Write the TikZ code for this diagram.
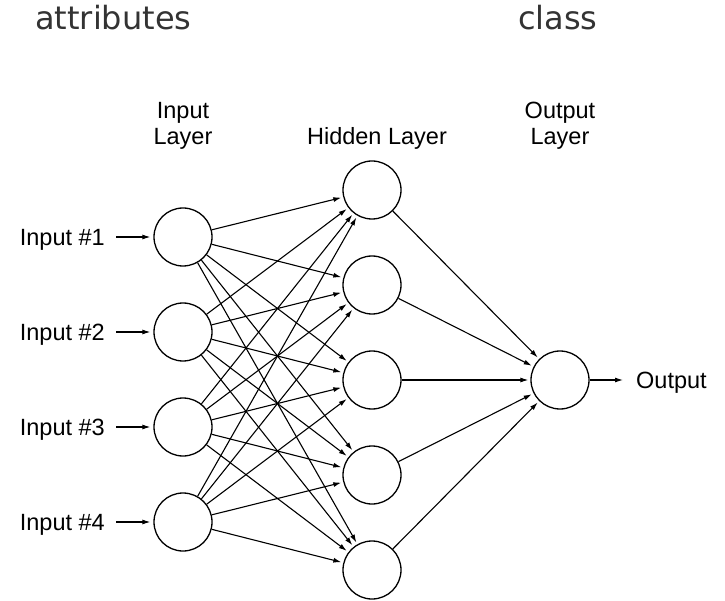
\documentclass[tikz,border=0pt]{standalone}
\usepackage{fontspec}
\setmainfont{Liberation Sans}
\newfontfamily\headfont{DejaVu Sans}
\usetikzlibrary{arrows.meta}
\definecolor{headgray}{HTML}{333333}
\tikzset{
  neuron/.style={circle, draw, line width=1.3pt, minimum size=58pt, inner sep=0pt},
  arr/.style={line width=1.1pt, -{Latex[length=8pt,width=5pt]}},
  lbl/.style={font=\fontsize{23.5}{26}\selectfont, inner sep=0pt},
  sidelbl/.style={lbl, text height=17pt, text depth=0pt},
  headlbl/.style={font=\headfont\fontsize{32}{36}\selectfont, text=headgray, inner sep=0pt, anchor=base west},
}
\begin{document}
\begin{tikzpicture}[x=1pt,y=-1pt]
\useasboundingbox (0,0) rectangle (725,601);

% column headings
\node[headlbl] (hattr) at (35,30) {attributes};
\node[headlbl] (hclass) at (518,30) {class};

% layer titles
\node[lbl, anchor=base, align=center] (tin) at (183,145) {Input\\Layer};
\node[lbl, anchor=base] (thid) at (377,145) {Hidden Layer};
\node[lbl, anchor=base, align=center] (tout) at (560,145) {Output\\Layer};

% input layer
\foreach \k/\y in {1/237, 2/332, 3/427, 4/522} {
  \node[neuron] (i\k) at (183,\y) {};
  \node[sidelbl, anchor=east] (l\k) at (105,\y) {Input \#\k};
  \draw[arr, shorten <=11pt, shorten >=3pt] (l\k.east) -- (i\k);
}

% hidden layer
\foreach \k/\y in {1/190, 2/285, 3/380, 4/475, 5/570} {
  \node[neuron] (h\k) at (372,\y) {};
}

% output layer
\node[neuron] (o) at (560,380) {};
\node[sidelbl, anchor=west] (olbl) at (636,380) {Output};
\draw[arr, shorten >=13pt] (o) -- (olbl.west);

% connections
\foreach \a in {1,...,4} {
  \foreach \b in {1,...,5} {
    \draw[arr, shorten >=2pt] (i\a) -- (h\b);
  }
}
\foreach \b in {1,...,5} {
  \draw[arr, shorten >=2pt] (h\b) -- (o);
}
\end{tikzpicture}
\end{document}
